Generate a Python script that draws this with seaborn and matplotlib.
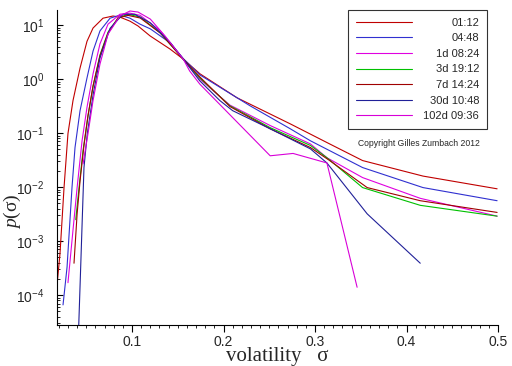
import matplotlib
matplotlib.use('Agg')
import matplotlib.pyplot as plt
import numpy as np
import pandas as pd
import seaborn as sns
from matplotlib.ticker import LogLocator, MultipleLocator, FixedLocator, FormatStrFormatter

horizons = ['01:12', '04:48', '1d 08:24', '3d 19:12', '7d 14:24', '30d 10:48', '102d 09:36']
colors = ['#c00000', '#3030d0', '#e000e0', '#00c000', '#a00000', '#202098', '#d800d8']

sigma_0112 = [0.018, 0.0213, 0.0257, 0.030, 0.0355, 0.0432, 0.0508, 0.0574, 0.0683, 0.0792, 0.0869,
              0.0978, 0.1066, 0.1197, 0.1415, 0.1557, 0.1743, 0.2148, 0.273, 0.316, 0.352, 0.418, 0.499]
p_0112 = [1.5e-4, 5.9e-4, 9.8e-3, 0.098, 0.40, 1.6, 5.0, 8.8, 13.4, 14.7, 14.0,
          11.8, 9.6, 6.3, 3.6, 2.36, 1.25, 0.45, 0.148, 0.063, 0.031, 0.016, 0.0093]

sigma_0448 = [0.0246, 0.029, 0.0344, 0.0377, 0.0432, 0.0508, 0.0574, 0.065, 0.076, 0.0869, 0.0978,
              0.1087, 0.12, 0.1415, 0.156, 0.174, 0.229, 0.273, 0.295, 0.352, 0.418, 0.499]
p_0448 = [6.6e-5, 3.3e-4, 9.8e-3, 0.054, 0.26, 1.05, 3.3, 7.8, 13.4, 15.3, 13.4,
          10.4, 8.5, 4.7, 2.4, 1.2, 0.32, 0.12, 0.072, 0.023, 0.0098, 0.0056]

sigma_1d = [0.030, 0.0355, 0.040, 0.0454, 0.0508, 0.0574, 0.065, 0.0738, 0.0869, 0.0978, 0.109,
            0.131, 0.156, 0.174, 0.207, 0.251, 0.295, 0.313, 0.352, 0.415, 0.499]
p_1d = [1.7e-4, 1.6e-3, 9.8e-3, 0.072, 0.30, 1.25, 4.5, 10.4, 15.9, 16.6, 15.1,
        7.8, 2.34, 1.0, 0.33, 0.138, 0.063, 0.035, 0.015, 0.0062, 0.0029]

sigma_3d = [0.0385, 0.0421, 0.0465, 0.0519, 0.0574, 0.065, 0.0738, 0.0847, 0.0956, 0.109, 0.131,
            0.156, 0.174, 0.207, 0.251, 0.295, 0.313, 0.352, 0.415, 0.499]
p_3d = [2.5e-3, 9.8e-3, 0.048, 0.21, 0.74, 2.8, 7.4, 13.5, 15.8, 14.1, 7.1,
        2.34, 1.05, 0.32, 0.126, 0.059, 0.035, 0.0098, 0.0046, 0.0029]

sigma_7d = [0.0366, 0.040, 0.0432, 0.0475, 0.0519, 0.0574, 0.065, 0.0738, 0.0847, 0.0956, 0.109,
            0.131, 0.156, 0.174, 0.207, 0.251, 0.295, 0.316, 0.357, 0.415, 0.499]
p_7d = [3.9e-4, 3.2e-3, 0.013, 0.059, 0.21, 0.74, 2.7, 7.1, 13.5, 15.1, 13.5,
        7.1, 2.34, 1.1, 0.31, 0.12, 0.054, 0.031, 0.0098, 0.0056, 0.0034]

sigma_30d = [0.0415, 0.0439, 0.0457, 0.0475, 0.0511, 0.0577, 0.065, 0.076, 0.090, 0.103, 0.12,
             0.142, 0.156, 0.174, 0.196, 0.210, 0.251, 0.295, 0.313, 0.357, 0.415]
p_30d = [2.0e-5, 3.3e-4, 2.8e-3, 0.023, 0.098, 0.54, 2.45, 8.7, 15.8, 15.8, 11.0,
         4.7, 2.34, 0.93, 0.40, 0.26, 0.12, 0.051, 0.028, 0.0032, 3.9e-4]

sigma_102d = [0.0465, 0.0519, 0.0574, 0.065, 0.0738, 0.0869, 0.0978, 0.1066, 0.12, 0.136, 0.156,
              0.163, 0.174, 0.251, 0.276, 0.313, 0.346]
p_102d = [0.027, 0.098, 0.40, 1.9, 6.8, 14.8, 18.2, 17.4, 12.9, 6.3, 2.34,
          1.41, 0.81, 0.038, 0.042, 0.028, 1.4e-4]

sigmas = [sigma_0112, sigma_0448, sigma_1d, sigma_3d, sigma_7d, sigma_30d, sigma_102d]
probs = [p_0112, p_0448, p_1d, p_3d, p_7d, p_30d, p_102d]

frames = []
for h, s, p in zip(horizons, sigmas, probs):
    frames.append(pd.DataFrame({'sigma': s, 'p': p, 'horizon': h}))
df = pd.concat(frames, ignore_index=True)

sns.set_style('white')
plt.rcParams['font.family'] = ['Liberation Sans', 'DejaVu Sans']
plt.rcParams['mathtext.fontset'] = 'custom'
plt.rcParams['mathtext.rm'] = 'Liberation Sans'
plt.rcParams['mathtext.it'] = 'Liberation Serif:italic'

fig = plt.figure(figsize=(5.12, 3.66), dpi=100)
ax = fig.add_axes([0.1113, 0.112, 0.8614, 0.8607])
ax.set_yscale('log')

sns.lineplot(data=df, x='sigma', y='p', hue='horizon', hue_order=horizons,
             palette=dict(zip(horizons, colors)), estimator=None, sort=False,
             linewidth=0.8, ax=ax)

ax.set_xlim(0.018, 0.5)
ax.set_ylim(2.8e-5, 19)

for side in ['top', 'right']:
    ax.spines[side].set_visible(False)
for side in ['left', 'bottom']:
    ax.spines[side].set_color('black')
    ax.spines[side].set_linewidth(0.8)

ax.xaxis.set_major_locator(FixedLocator([0.1, 0.2, 0.3, 0.4, 0.5]))
ax.xaxis.set_minor_locator(MultipleLocator(0.01))
ax.xaxis.set_major_formatter(FormatStrFormatter('%.1f'))
ax.yaxis.set_major_locator(LogLocator(base=10, numticks=12))
ax.yaxis.set_minor_locator(LogLocator(base=10, subs=np.arange(2, 10), numticks=12))
ax.tick_params(axis='x', which='major', direction='out', length=5, width=0.8, pad=2, labelsize=10, color='black')
ax.tick_params(axis='x', which='minor', direction='out', length=2.5, width=0.6, color='black')
ax.tick_params(axis='y', which='major', direction='in', length=4, width=0.8, pad=9, labelsize=10, color='black')
ax.tick_params(axis='y', which='minor', direction='in', length=2.5, width=0.6, color='black')
ax.tick_params(left=True, bottom=True, which='both')

ax.set_xlabel('volatility   σ', family=['Liberation Serif'], fontsize=15, labelpad=-1)
ax.set_ylabel('$p$(σ)', family=['Liberation Serif'], fontsize=14)
ax.yaxis.set_label_coords(-0.077, 0.36)

handles, _ = ax.get_legend_handles_labels()
leg = ax.legend(handles, horizons, loc='upper right', bbox_to_anchor=(0.975, 1.0),
                fontsize=8, handlelength=5.1, handletextpad=1.0, labelspacing=0.5,
                borderpad=0.7, borderaxespad=0, frameon=True, fancybox=False)
leg.get_frame().set_edgecolor('black')
leg.get_frame().set_linewidth(0.8)
for line in leg.get_lines():
    line.set_linewidth(0.8)

# right-align the legend labels
fig.canvas.draw()
widths = [t.get_window_extent().width for t in leg.get_texts()]
shift = max(widths)
for t, w in zip(leg.get_texts(), widths):
    t.set_position((shift - w, 0))

fig.text(0.818, 0.609, 'Copyright Gilles Zumbach 2012', fontsize=6.2, ha='center', va='center')

fig.savefig('out.png', dpi=100)
